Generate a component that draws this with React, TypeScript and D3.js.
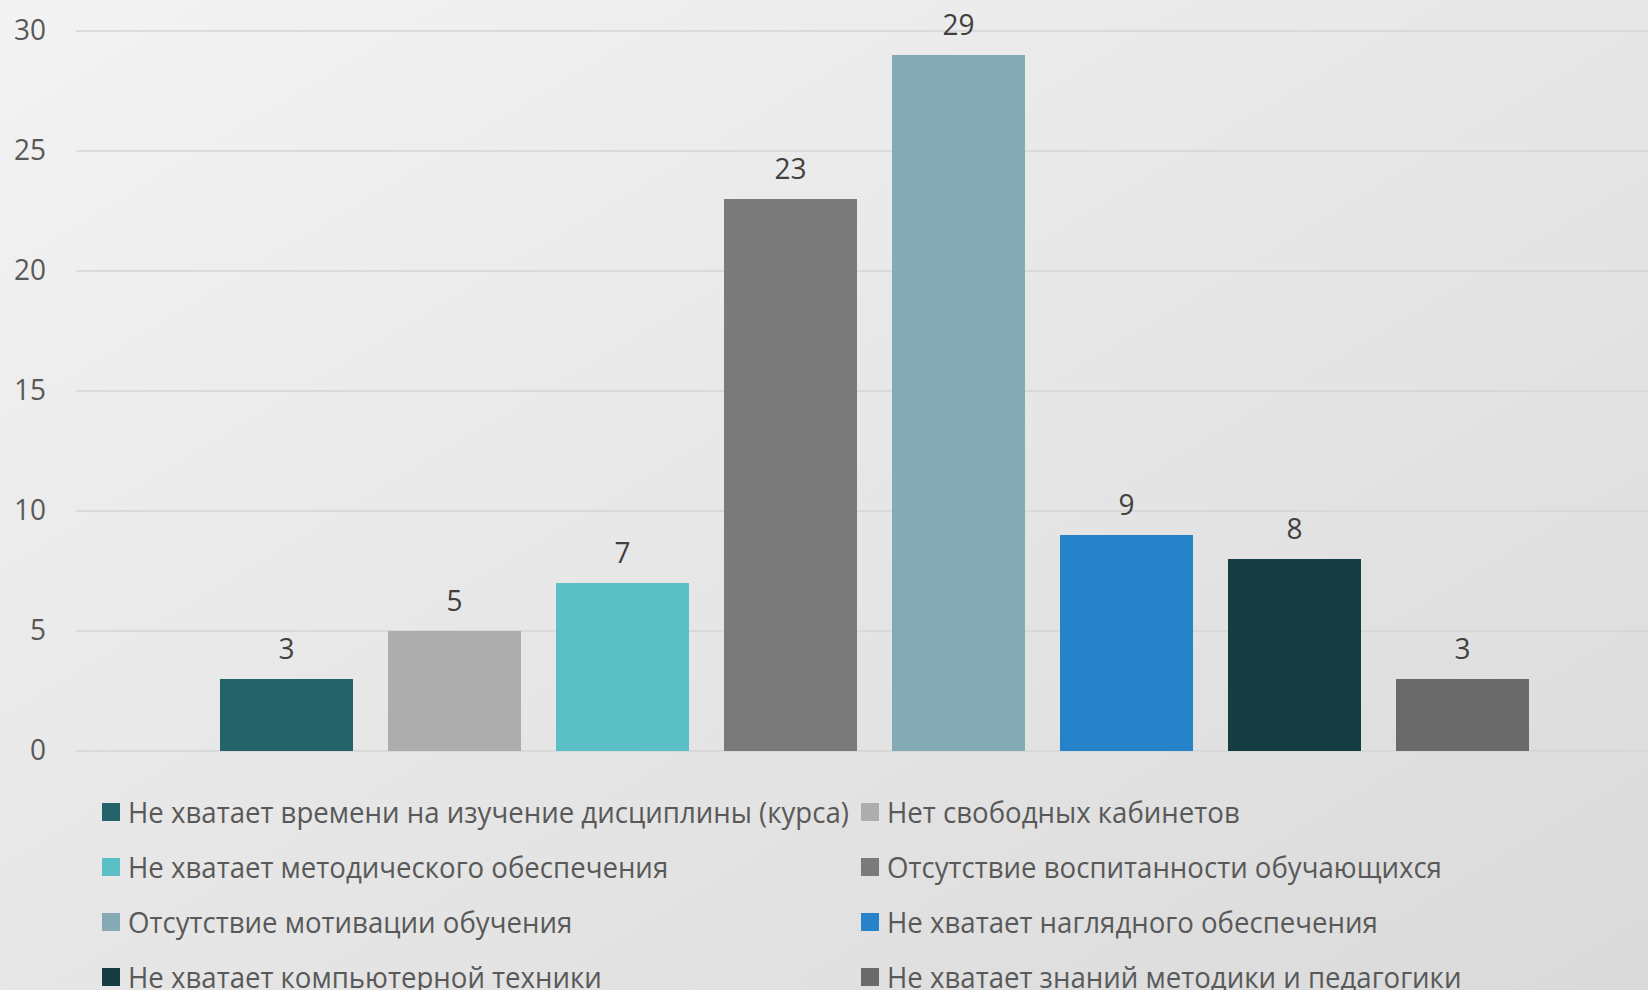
import React from "react";
import * as d3 from "d3";

const categories = [
  "Не хватает времени на изучение дисциплины (курса)",
  "Нет свободных кабинетов",
  "Не хватает методического обеспечения",
  "Отсутствие воспитанности обучающихся",
  "Отсутствие мотивации обучения",
  "Не хватает наглядного обеспечения",
  "Не хватает компьютерной техники",
  "Не хватает знаний методики и педагогики",
];
const values = [3, 5, 7, 23, 29, 9, 8, 3];
const colors = ["#246369", "#adadad", "#5bbfc6", "#7a7a7a", "#84abb5", "#2683c9", "#163d42", "#6a6a6a"];
const yTicks = [0, 5, 10, 15, 20, 25, 30];

const W = 1648;
const H = 990;
const FONT = "'Open Sans', 'Noto Sans', sans-serif";

export default function App() {
  const pad = 35 / 168;
  const x = d3.scaleBand<string>().domain(categories).range([202.5, 1546.5]).paddingInner(pad).paddingOuter(pad / 2);
  const y = d3.scaleLinear().domain([0, 30]).range([751, 31]);

  const legendCols = [102, 861];
  const legendRows = [811, 866, 921, 976];

  return (
    <div style={{ position: "fixed", left: 0, top: 0 }}>
      <svg width={W} height={H} style={{ display: "block" }}>
        <defs>
          <linearGradient id="bg" x1="0" y1="0" x2="1" y2="1">
            <stop offset="0" stopColor="#f3f3f3" />
            <stop offset="1" stopColor="#dadada" />
          </linearGradient>
        </defs>
        <rect x={0} y={0} width={W} height={H} fill="url(#bg)" />
        {yTicks.map((t) => (
          <g key={t}>
            <line x1={76} x2={W} y1={y(t)} y2={y(t)} stroke="#d5d5d5" strokeWidth={1.6} />
            <g transform={`translate(46,${y(t) - 2.5}) scale(1,1.05)`}>
              <text x={0} y={0} textAnchor="end" dominantBaseline="central" fontFamily={FONT} fontSize={28} fill="#595959">
                {t}
              </text>
            </g>
          </g>
        ))}
        {categories.map((c, i) => (
          <g key={c}>
            <rect x={x(c)} y={y(values[i])} width={x.bandwidth()} height={y(0) - y(values[i])} fill={colors[i]} />
            <g transform={`translate(${(x(c) as number) + x.bandwidth() / 2},${y(values[i]) - 20}) scale(1,1.05)`}>
              <text x={0} y={0} textAnchor="middle" fontFamily={FONT} fontSize={28} fill="#404040">
                {values[i]}
              </text>
            </g>
          </g>
        ))}
        {categories.map((c, i) => {
          const cx = legendCols[i % 2];
          const cy = legendRows[Math.floor(i / 2)];
          return (
            <g key={"l" + c}>
              <rect x={cx} y={cy - 8} width={18} height={18} fill={colors[i]} />
              <g transform={`translate(${cx + 26},${cy}) scale(1,1.07)`}>
                <text x={0} y={0} dominantBaseline="central" fontFamily={FONT} fontSize={27.6} fill="#595959">
                  {c}
                </text>
              </g>
            </g>
          );
        })}
      </svg>
    </div>
  );
}
